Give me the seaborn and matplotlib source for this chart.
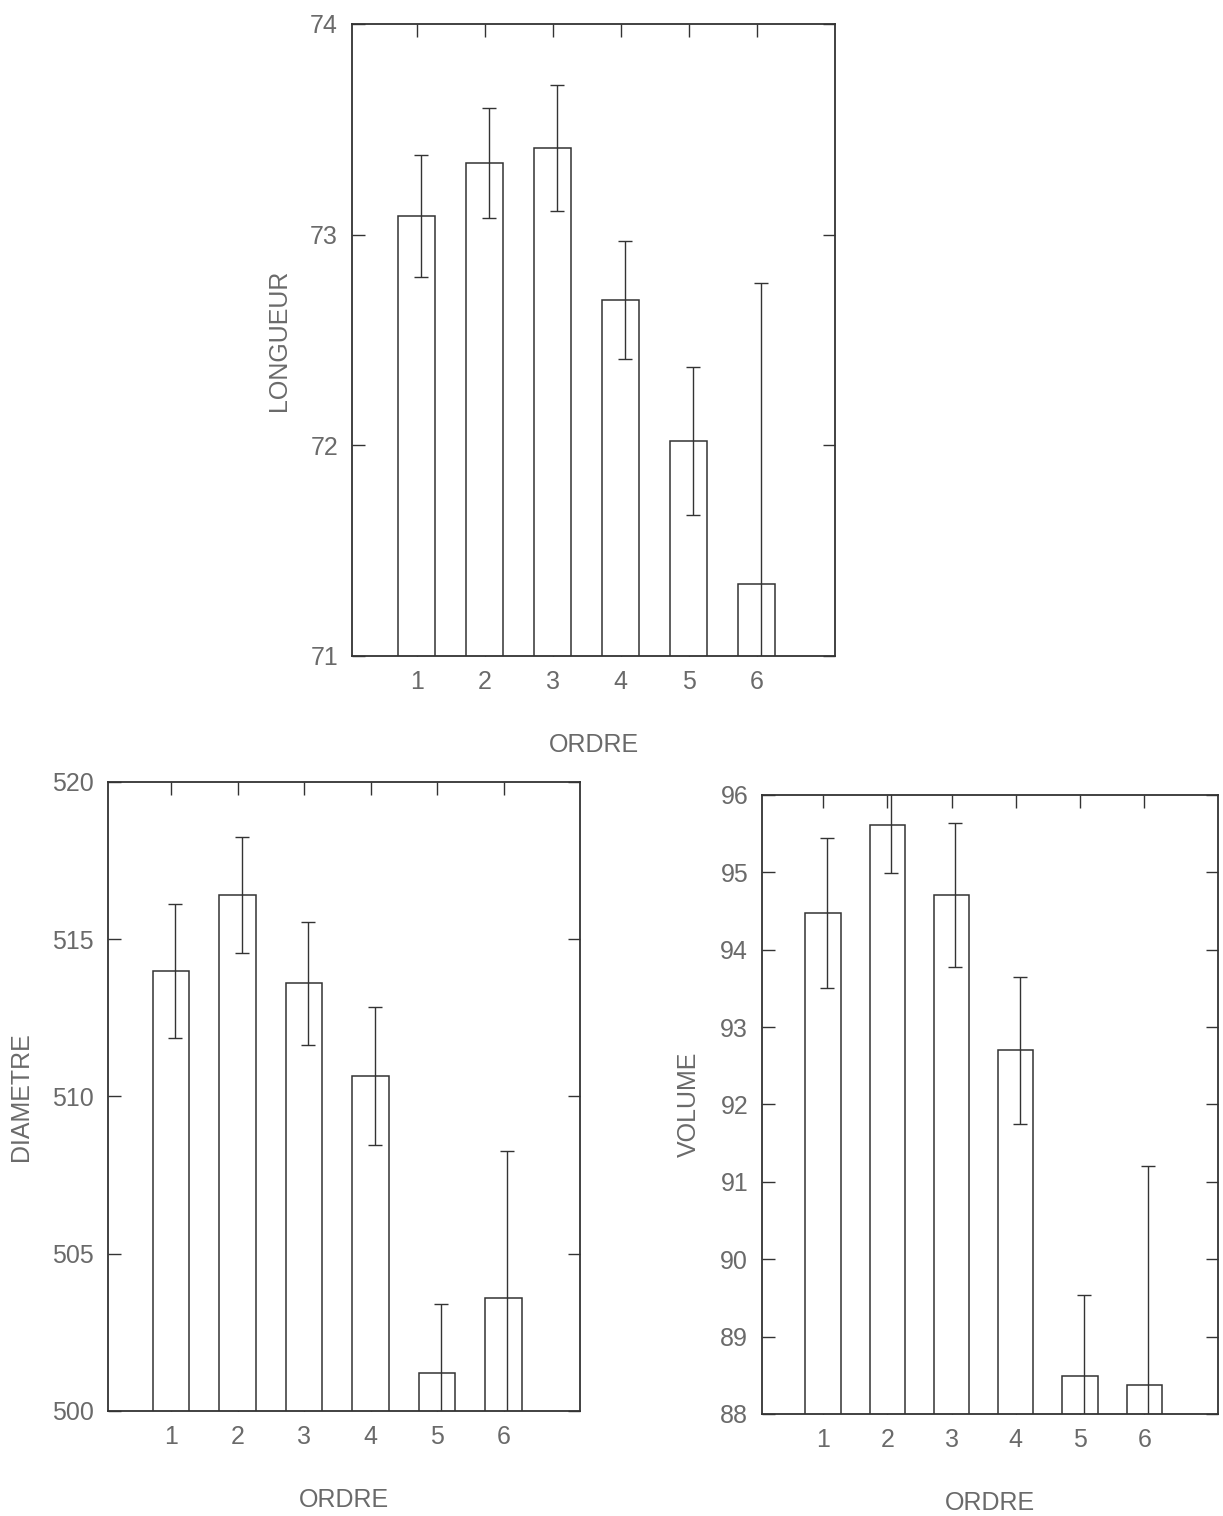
import matplotlib
matplotlib.use('Agg')
import matplotlib.pyplot as plt
import seaborn as sns
import pandas as pd

# data
ordre = [1, 2, 3, 4, 5, 6]

longueur = [73.09, 73.34, 73.41, 72.69, 72.02, 71.34]
longueur_err = [0.29, 0.26, 0.30, 0.28, 0.35, 1.43]

diametre = [514.0, 516.4, 513.6, 510.65, 501.2, 503.6]
diametre_err = [2.13, 1.85, 1.95, 2.2, 2.2, 4.65]

volume = [94.47, 95.61, 94.71, 92.70, 88.49, 88.37]
volume_err = [0.97, 0.62, 0.93, 0.95, 1.05, 2.83]

sns.set_style('white')
plt.rcParams['font.family'] = ['Liberation Sans', 'DejaVu Sans']

TXT = '#6a6a6a'
LN = '#333333'


def panel(ax, values, errs, ylabel, ylim, yticks):
    df = pd.DataFrame({'ordre': ordre, 'val': values})
    sns.barplot(data=df, x='ordre', y='val', native_scale=True, width=0.55,
                color='white', edgecolor=LN, linewidth=1.1, ax=ax, errorbar=None)
    ax.errorbar(df['ordre'] + 0.06, df['val'], yerr=errs, fmt='none',
                ecolor=LN, elinewidth=1.0, capsize=5, capthick=1.0)
    ax.set_xlim(0.05, 7.15)
    ax.set_ylim(*ylim)
    ax.set_yticks(yticks)
    ax.set_yticklabels([str(t) for t in yticks])
    ax.set_xticks(ordre)
    ax.tick_params(direction='in', length=9, width=1, colors=LN,
                   labelcolor=TXT, labelsize=18, top=True, right=True,
                   left=True, bottom=True, pad=10)
    ax.set_xlabel('ORDRE', color=TXT, fontsize=18, labelpad=28)
    ax.set_ylabel(ylabel, color=TXT, fontsize=18, labelpad=14)
    for s in ax.spines.values():
        s.set_visible(True)
        s.set_color(LN)
        s.set_linewidth(1.3)


fig = plt.figure(figsize=(12.23, 15.16), dpi=100)
ax1 = fig.add_axes([0.2878, 0.5673, 0.3949, 0.4169])
ax2 = fig.add_axes([0.0883, 0.0693, 0.3859, 0.4149])
ax3 = fig.add_axes([0.6231, 0.0673, 0.3729, 0.4083])

panel(ax1, longueur, longueur_err, 'LONGUEUR', (71, 74), [71, 72, 73, 74])
panel(ax2, diametre, diametre_err, 'DIAMETRE', (500, 520), [500, 505, 510, 515, 520])
panel(ax3, volume, volume_err, 'VOLUME', (88, 96), list(range(88, 97)))

fig.savefig('out.png', dpi=100, facecolor='white')
